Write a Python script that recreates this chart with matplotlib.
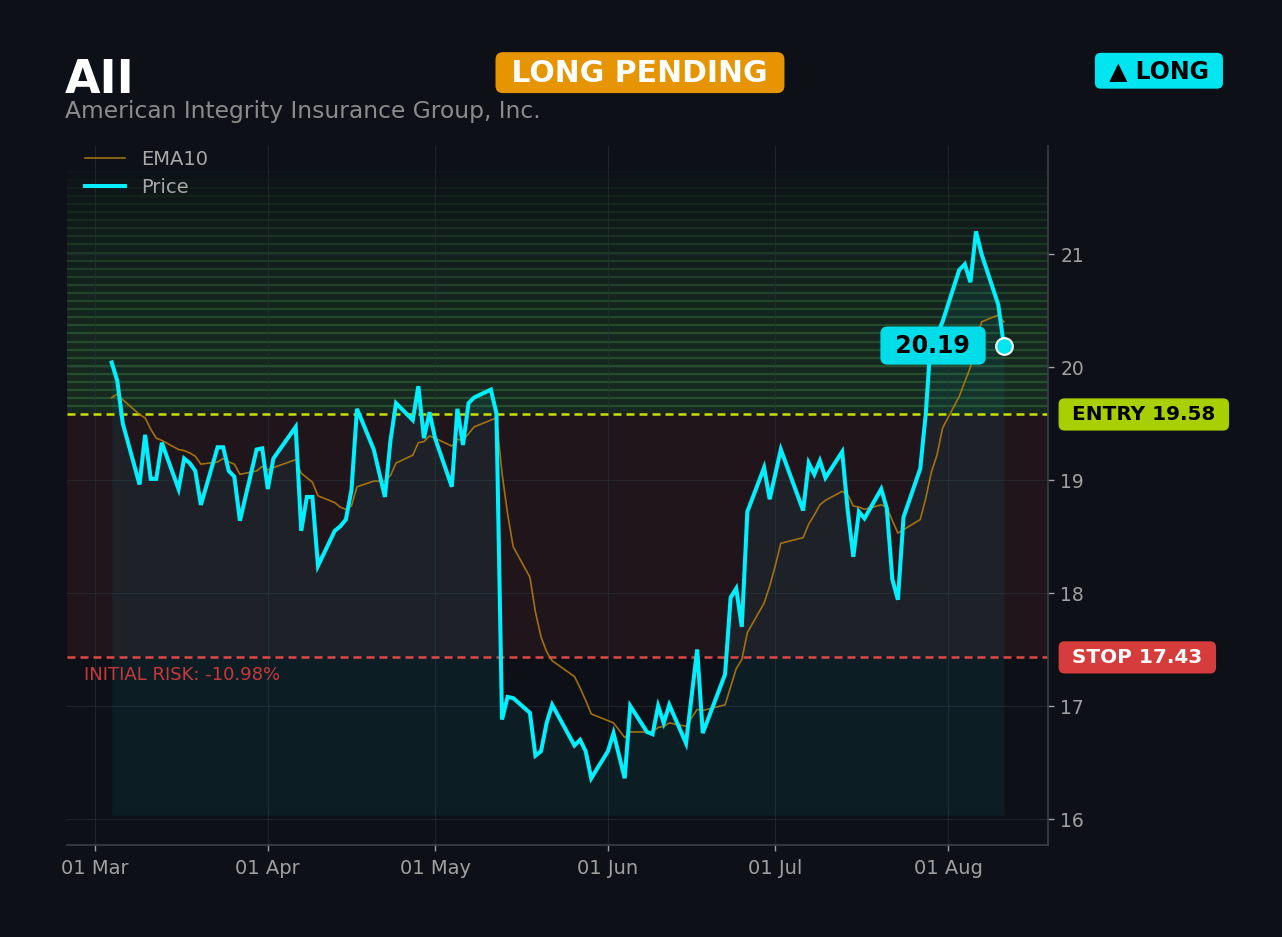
import matplotlib
matplotlib.use('Agg')
import matplotlib.pyplot as plt
import matplotlib.dates as mdates
import matplotlib.transforms as mtransforms
import numpy as np
import pandas as pd

# ---------------- data ----------------
ticker = "AII"
company = "American Integrity Insurance Group, Inc."
status = "LONG PENDING"
side = "▲ LONG"
entry = 19.58
stop = 17.43

dates = [
    "2025-03-04", "2025-03-05", "2025-03-06", "2025-03-09", "2025-03-10", "2025-03-11", "2025-03-12", "2025-03-13",
    "2025-03-16", "2025-03-17", "2025-03-18", "2025-03-19", "2025-03-20", "2025-03-23", "2025-03-24", "2025-03-25",
    "2025-03-26", "2025-03-27", "2025-03-30", "2025-03-31", "2025-04-01", "2025-04-02", "2025-04-06", "2025-04-07",
    "2025-04-08", "2025-04-09", "2025-04-10", "2025-04-13", "2025-04-14", "2025-04-15", "2025-04-16", "2025-04-17",
    "2025-04-20", "2025-04-22", "2025-04-23", "2025-04-24", "2025-04-27", "2025-04-28", "2025-04-29", "2025-04-30",
    "2025-05-01", "2025-05-04", "2025-05-05", "2025-05-06", "2025-05-07", "2025-05-08", "2025-05-11", "2025-05-12",
    "2025-05-13", "2025-05-14", "2025-05-15", "2025-05-18", "2025-05-19", "2025-05-20", "2025-05-21", "2025-05-22",
    "2025-05-26", "2025-05-27", "2025-05-28", "2025-05-29", "2025-06-01", "2025-06-02", "2025-06-04", "2025-06-05",
    "2025-06-08", "2025-06-09", "2025-06-10", "2025-06-11", "2025-06-12", "2025-06-15", "2025-06-17", "2025-06-18",
    "2025-06-22", "2025-06-23", "2025-06-24", "2025-06-25", "2025-06-26", "2025-06-29", "2025-06-30", "2025-07-01",
    "2025-07-02", "2025-07-06", "2025-07-07", "2025-07-08", "2025-07-09", "2025-07-10", "2025-07-13", "2025-07-14",
    "2025-07-15", "2025-07-16", "2025-07-17", "2025-07-20", "2025-07-21", "2025-07-22", "2025-07-23", "2025-07-24",
    "2025-07-27", "2025-07-28", "2025-07-29", "2025-07-30", "2025-07-31", "2025-08-03", "2025-08-04", "2025-08-05",
    "2025-08-06", "2025-08-07", "2025-08-10", "2025-08-11",
]

price = [
    20.04, 19.88, 19.50, 18.96, 19.40, 19.01, 19.01, 19.33,
    18.92, 19.19, 19.15, 19.08, 18.78, 19.29, 19.29, 19.08,
    19.03, 18.64, 19.27, 19.28, 18.92, 19.19, 19.47, 18.55,
    18.85, 18.85, 18.24, 18.55, 18.59, 18.65, 18.91, 19.63,
    19.27, 18.85, 19.35, 19.68, 19.53, 19.83, 19.37, 19.60,
    19.37, 18.94, 19.63, 19.31, 19.68, 19.73, 19.80, 19.59,
    16.88, 17.08, 17.07, 16.94, 16.56, 16.60, 16.85, 17.01,
    16.65, 16.70, 16.60, 16.36, 16.60, 16.76, 16.36, 17.00,
    16.77, 16.75, 17.00, 16.85, 17.01, 16.67, 17.50, 16.76,
    17.28, 17.96, 18.04, 17.70, 18.72, 19.11, 18.83, 19.05,
    19.27, 18.73, 19.15, 19.05, 19.17, 19.02, 19.25, 18.73,
    18.32, 18.72, 18.66, 18.92, 18.75, 18.12, 17.94, 18.67,
    19.10, 19.59, 20.32, 20.28, 20.40, 20.86, 20.91, 20.75,
    21.20, 21.00, 20.55, 20.19,
]

ema10 = [
    19.73, 19.76, 19.71, 19.58, 19.55, 19.45, 19.37, 19.35,
    19.27, 19.26, 19.24, 19.21, 19.14, 19.16, 19.19, 19.16,
    19.14, 19.05, 19.08, 19.12, 19.09, 19.11, 19.18, 19.06,
    19.02, 18.98, 18.86, 18.80, 18.76, 18.74, 18.77, 18.94,
    18.99, 18.99, 19.04, 19.15, 19.22, 19.33, 19.34, 19.39,
    19.37, 19.30, 19.36, 19.35, 19.41, 19.47, 19.53, 19.55,
    19.06, 18.70, 18.41, 18.14, 17.83, 17.61, 17.48, 17.40,
    17.26, 17.16, 17.05, 16.93, 16.87, 16.85, 16.72, 16.77,
    16.77, 16.77, 16.81, 16.82, 16.85, 16.82, 16.97, 16.96,
    17.01, 17.17, 17.33, 17.41, 17.65, 17.91, 18.06, 18.24,
    18.44, 18.49, 18.61, 18.69, 18.78, 18.82, 18.90, 18.87,
    18.77, 18.76, 18.74, 18.78, 18.76, 18.64, 18.53, 18.56,
    18.65, 18.84, 19.07, 19.22, 19.46, 19.74, 19.87, 20.00,
    20.21, 20.40, 20.46, 20.40,
]

# ---------------- styling ----------------
BG = '#0d1117'
CYAN = '#00f0ff'
GRID = '#2a3038'
TICK = '#a0a0a0'
GREEN = '#4caf50'

plt.rcParams['font.family'] = ['DejaVu Sans']

fig = plt.figure(figsize=(12.82, 9.375), dpi=100, facecolor=BG)
ax = fig.add_axes([0.0523, 0.0982, 0.7652, 0.7460])
ax.set_facecolor(BG)

d = pd.to_datetime(dates)
price_arr = np.array(price)

ax.set_xlim(pd.Timestamp('2025-02-24'), pd.Timestamp('2025-08-18 22:00'))
ax.set_ylim(15.77, 21.96)

# green target zone with stepped gradient
n_bands = 30
zone_top = entry + (entry - stop)
edges = np.linspace(entry, zone_top, n_bands + 1)
for i in range(n_bands):
    f = 1 - (i / n_bands) ** 2
    ax.axhspan(edges[i], edges[i + 1], color=GREEN, alpha=0.15 * f, lw=0, zorder=0)
    ax.axhline(edges[i + 1], color=GREEN, alpha=0.30 * f, lw=1.6, zorder=0)

# risk zone
ax.axhspan(stop, entry, color='#e04848', alpha=0.09, lw=0, zorder=0)

ax.grid(True, color=GRID, lw=0.8, alpha=0.6, zorder=0.5)
ax.set_axisbelow(True)

# area under price
base = price_arr.min() * 0.98
ax.fill_between(d, price_arr, base, color='#00e5ff', alpha=0.06, lw=0, zorder=1)

ax.plot(d, ema10, color='#b07a10', lw=1.2, alpha=0.9, label='EMA10', zorder=3)
ax.plot(d, price_arr, color=CYAN, lw=2.9, label='Price', zorder=4, solid_joinstyle='miter')

dash = (0, (3.2, 2.0))
ax.axhline(entry, color='#c8e000', ls=dash, lw=1.8, zorder=2)
ax.axhline(stop, color='#e04848', ls=dash, lw=1.8, zorder=2)

# end marker + value label
ax.plot(d[-1], price_arr[-1], 'o', ms=12, mfc='#00e5f0', mec='white', mew=1.5, zorder=6)
ax.annotate(f' {price_arr[-1]:.2f} ', xy=(d[-1], price_arr[-1]), xytext=(-51, 0),
            textcoords='offset points', ha='center', va='center', fontsize=17,
            fontweight='bold', color='black', zorder=7,
            bbox=dict(boxstyle='round,pad=0.3,rounding_size=0.3', fc='#00dce8', ec='none'))

# right-side level labels
trans = mtransforms.blended_transform_factory(ax.transAxes, ax.transData)
ax.text(1.0175, entry, ' ENTRY 19.58 ', transform=trans, ha='left', va='center',
        fontsize=14.4, fontweight='bold', color='black', clip_on=False, zorder=8,
        bbox=dict(boxstyle='round,pad=0.33,rounding_size=0.3', fc='#a8d000', ec='none'))
ax.text(1.0175, stop, ' STOP 17.43 ', transform=trans, ha='left', va='center',
        fontsize=14.4, fontweight='bold', color='white', clip_on=False, zorder=8,
        bbox=dict(boxstyle='round,pad=0.33,rounding_size=0.3', fc='#d63c3c', ec='none'))

risk = (stop - entry) / entry * 100
ax.text(0.017, stop - 0.07, f'INITIAL RISK: {risk:.2f}%', transform=trans, ha='left', va='top',
        fontsize=13, color='#c8393b', zorder=8)

# axes styling
ax.yaxis.tick_right()
ax.set_yticks([16, 17, 18, 19, 20, 21])
ax.xaxis.set_major_locator(mdates.MonthLocator())
ax.xaxis.set_major_formatter(mdates.DateFormatter('%d %b'))
ax.tick_params(axis='y', colors=TICK, labelsize=13.5, length=4.3, pad=4.5, width=1)
ax.tick_params(axis='x', colors=TICK, labelsize=14, length=4, pad=6, width=1)
for s in ['left', 'top']:
    ax.spines[s].set_visible(False)
for s in ['right', 'bottom']:
    ax.spines[s].set_color('#3a3f47')
    ax.spines[s].set_linewidth(1.2)

leg = ax.legend(loc='upper left', frameon=False, fontsize=14, labelcolor='#a8a8a8',
                handlelength=2.1, labelspacing=0.45, bbox_to_anchor=(0.0, 1.019))

# header
fig.text(0.0505, 0.9005, ticker, fontsize=33, fontweight='bold', color='white', va='baseline')
fig.text(0.0505, 0.874, company, fontsize=16.8, color='#8b8b8b', va='baseline')
fig.text(0.4992, 0.922, f' {status} ', fontsize=21.5, fontweight='bold', color='white',
         ha='center', va='center',
         bbox=dict(boxstyle='round,pad=0.2,rounding_size=0.25', fc='#e69500', ec='none'))
fig.text(0.904, 0.924, f' {side} ', fontsize=17, fontweight='bold', color='black',
         ha='center', va='center',
         bbox=dict(boxstyle='round,pad=0.25,rounding_size=0.25', fc='#00e5f0', ec='none'))

fig.savefig('out.png', dpi=100, facecolor=BG)
